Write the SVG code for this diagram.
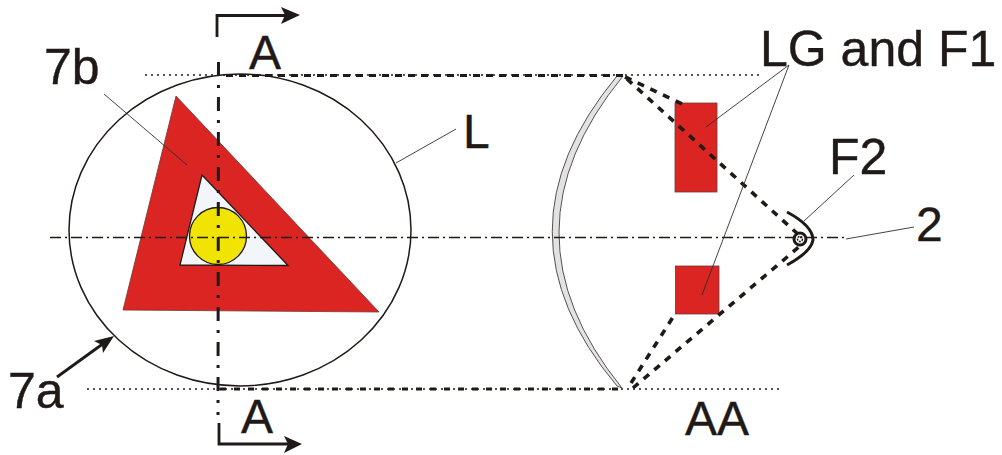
<svg xmlns="http://www.w3.org/2000/svg" width="1002" height="455" viewBox="0 0 1002 455">
<style>
text{font-family:"Liberation Sans",Arial,sans-serif;font-size:48px;fill:#1f1a17;stroke:#1f1a17;stroke-width:.4}
.big{font-size:50px}
.lead{fill:none;stroke:#332e2b;stroke-width:.9}
.red{fill:#da2522;stroke:#6b3a36;stroke-width:.8}
.dot{fill:none;stroke:#1f1a17;stroke-width:1.6;stroke-dasharray:2 4}
.dash{fill:none;stroke:#1f1a17;stroke-width:3;stroke-dasharray:7 6}
.ray{fill:none;stroke:#1f1a17;stroke-width:3.6;stroke-dasharray:7 7}
.ax{fill:none;stroke:#1f1a17;stroke-width:1.6;stroke-dasharray:11 4 2 4}
.axv{fill:none;stroke:#1f1a17;stroke-width:3;stroke-dasharray:14 9 3 9}
.sec{fill:none;stroke:#1f1a17;stroke-width:2.8}
.head{fill:#1f1a17}
</style>
<rect width="1002" height="455" fill="#fff"/>
<g id="lens-front">
<ellipse cx="240" cy="230" rx="171" ry="156" fill="#fff" stroke="#1f1a17" stroke-width="1.5"/>
</g>
<g id="triangle">
<path class="red" fill-rule="evenodd" d="M176 96L379 312L123 310Z"/>
<path d="M202 175L288 265.500L180 265Z" fill="#f2f6fb" stroke="#1f1a17" stroke-width="1.300"/>
</g>
<g id="source">
<circle cx="218" cy="236" r="28.500" fill="#f1e403" stroke="#1f1a17" stroke-width="1.300"/>
</g>
<g id="lens-section">
<path d="M623 76Q495.500 232 622 388L617 386Q487.500 232 617 76Z" fill="#e2e2e3" stroke="#55504e" stroke-width="1"/>
</g>
<g id="reflector-lg-top"><rect class="red" x="675" y="103" width="42" height="89"/></g>
<g id="reflector-lg-bottom"><rect class="red" x="675.500" y="266" width="43.500" height="48"/></g>
<g id="reflector-f2">
<path d="M787 212Q813 226 813 240Q811 252 787 265" fill="none" stroke="#1f1a17" stroke-width="3"/>
<circle cx="800" cy="239" r="6" fill="#fff" stroke="#1f1a17" stroke-width="3"/>
<circle cx="800" cy="239" r="2.500" fill="none" stroke="#1f1a17" stroke-width="1.500" stroke-dasharray="2 1"/>
</g>
<g id="connectors">
<path class="dot" d="M145 75H763"/>
<path class="dot" d="M87 389H783"/>
<path class="dash" d="M226 75.500H625"/>
<path class="dash" stroke-dasharray="6 8" style="stroke-dasharray:6 8" d="M220 389H622"/>
<path class="ax" d="M50 237.500H848"/>
<path class="axv" d="M218.500 62L218 415"/>
<path class="ray" d="M625 77L682 104"/>
<path class="ray" d="M627 79L800 236"/>
<path class="ray" d="M631 383L675 314"/>
<path class="ray" d="M633 388L800 246"/>
<path class="sec" d="M217 37V15.500H285"/>
<path class="head" d="M300 15L281 7L285 15L281 24Z"/>
<path class="sec" d="M219 423V444H289"/>
<path class="head" d="M302 444L284 436L288 444L284 453Z"/>
<path class="sec" d="M57 377L104 343"/>
<path class="head" d="M114 336L94 341L102 345L103 353Z"/>
<path class="lead" d="M104 94L187 165"/>
<path class="lead" d="M396 163L456 129"/>
<path class="lead" d="M789 65L706 127"/>
<path class="lead" d="M789 65L702 295"/>
<path class="lead" d="M854 175L804 221"/>
<path class="lead" d="M846 239L914 227"/>
</g>
<g id="labels">
<text class="big" x="44" y="84">7b</text>
<text x="249" y="69">A</text>
<text x="463" y="148">L</text>
<text class="big" x="760" y="66">LG and F1</text>
<text class="big" x="829" y="174">F2</text>
<text x="916" y="241">2</text>
<text class="big" x="8" y="408">7a</text>
<text x="241" y="433">A</text>
<text x="685" y="435">AA</text>
</g>
</svg>
